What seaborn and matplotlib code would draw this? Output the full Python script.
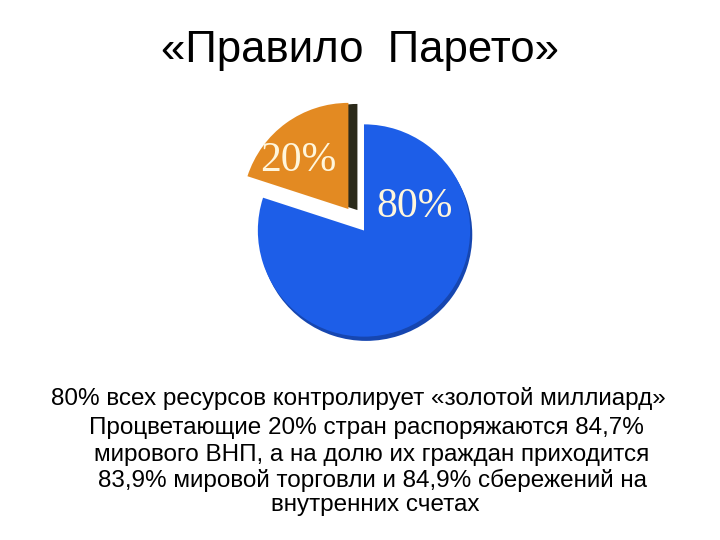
import matplotlib
matplotlib.use("Agg")
import matplotlib.pyplot as plt
import seaborn as sns

# pie data
SHARES = [20, 80]
SHARE_LABELS = ["20%", "80%"]
EXPLODE = [0.25, 0.0]
COLORS = ["#e38a22", "#1d5ee8"]
SIDE_COLORS = ["#2b2a1a", "#1646b0"]

TITLE = "«Правило  Парето»"
BODY_LINES = [
    "80% всех ресурсов контролирует «золотой миллиард»",
    "Процветающие 20% стран распоряжаются 84,7%",
    "мирового ВНП, а на долю их граждан приходится",
    "83,9% мировой торговли и 84,9% сбережений на",
    "внутренних счетах",
]

sns.set_theme(style="white")
plt.rcParams["font.family"] = ["Liberation Sans", "DejaVu Sans"]

fig = plt.figure(figsize=(7.2, 5.4), dpi=100)
fig.patch.set_facecolor("white")

fig.text(0.5, 0.907, TITLE, ha="center", va="center", fontsize=31.5, color="black")

# pie axes: blue centre around (364, 227) px, radius ~106 px
ax = fig.add_axes([0.3139, 0.3176, 0.3833, 0.5111])
ax.set_aspect("equal")
ax.axis("off")

# dark "side" layers to fake the 3D look (one per wedge, different offsets)
ax.pie(SHARES, explode=EXPLODE, colors=[SIDE_COLORS[0], "none"], startangle=90,
       counterclock=True, radius=1.0, center=(0.085, -0.01),
       wedgeprops=dict(linewidth=0))
ax.pie(SHARES, explode=EXPLODE, colors=["none", SIDE_COLORS[1]], startangle=90,
       counterclock=True, radius=1.0, center=(0.02, -0.04),
       wedgeprops=dict(linewidth=0))
ax.pie(SHARES, explode=EXPLODE, colors=COLORS, startangle=90,
       counterclock=True, radius=1.0, center=(0, 0),
       wedgeprops=dict(linewidth=0))
ax.set_xlim(-1.3, 1.3)
ax.set_ylim(-1.3, 1.3)

ax.text(-0.62, 0.66, SHARE_LABELS[0], ha="center", va="center",
        fontsize=30, family="Liberation Serif", color="#fff6dc")
ax.text(0.48, 0.22, SHARE_LABELS[1], ha="center", va="center",
        fontsize=30, family="Liberation Serif", color="#fff6dc")

y0 = 1 - 398 / 540
steps = [0, 30 / 540, 57 / 540, 82 / 540, 107 / 540]
xs = [358, 366, 372, 372, 375]
for line, dy, x in zip(BODY_LINES, steps, xs):
    fig.text(x / 720, y0 - dy, line, ha="center", va="center", fontsize=17.5,
             color="black")

fig.savefig("out.png", dpi=100, facecolor="white")
